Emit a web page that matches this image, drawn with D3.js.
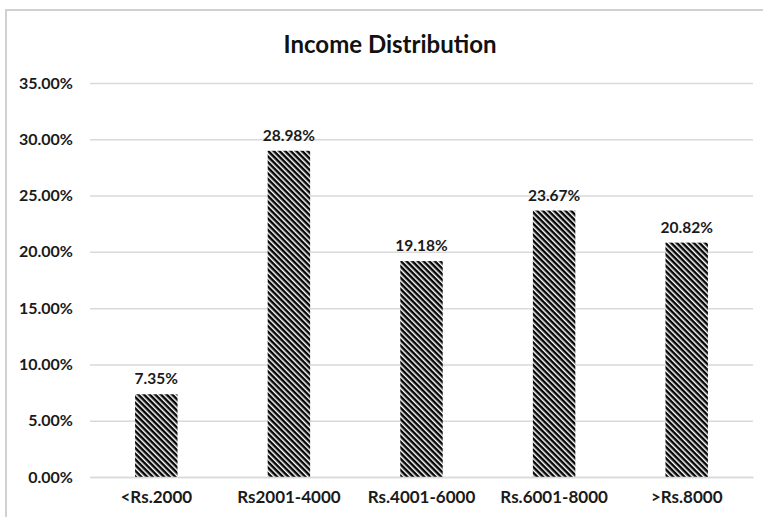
<!DOCTYPE html>
<html><head><meta charset="utf-8">
<script src="https://cdn.jsdelivr.net/npm/d3@7"></script>
<style>body{margin:0;background:#fff;} svg{display:block;}</style>
</head><body>
<svg id="chart" width="763" height="517"></svg>
<script>
const title = "Income Distribution";
const categories = ["<Rs.2000", "Rs2001-4000", "Rs.4001-6000", "Rs.6001-8000", ">Rs.8000"];
const values = [7.35, 28.98, 19.18, 23.67, 20.82];
const yTicks = [0, 5, 10, 15, 20, 25, 30, 35];

const svg = d3.select("#chart");
const W = 763, H = 517;
const font = "Lato, 'Open Sans', sans-serif";

// outer frame
svg.append("rect").attr("x", 6).attr("y", 10).attr("width", W).attr("height", H)
  .attr("fill", "#fff").attr("stroke", "#d0d0d0").attr("stroke-width", 2);

const defs = svg.append("defs");
const pat = defs.append("pattern").attr("id", "hatch").attr("patternUnits", "userSpaceOnUse")
  .attr("width", 4).attr("height", 4).attr("patternTransform", "rotate(45)");
pat.append("rect").attr("width", 4).attr("height", 4).attr("fill", "#fff");
pat.append("rect").attr("width", 4).attr("height", 2.5).attr("fill", "#050505");

const x = d3.scaleBand().domain(categories).range([90, 753]).paddingInner(0.68).paddingOuter(0.34);
const y = d3.scaleLinear().domain([0, 35]).range([477, 83]);

// gridlines
const yAxis = d3.axisLeft(y).tickValues(yTicks).tickSize(-(753 - 90)).tickFormat(d => d.toFixed(2) + "%");
const gy = svg.append("g").attr("transform", "translate(90,0)").call(yAxis);
gy.select(".domain").remove();
gy.selectAll(".tick line").attr("stroke", "#d9d9d9").attr("stroke-width", 1.5);
gy.selectAll(".tick text").attr("x", -17).attr("fill", "#1a1a1a")
  .style("font-family", font).style("font-weight", "bold").style("font-size", "16px");

// bars
svg.append("g").selectAll("rect").data(values).join("rect")
  .attr("x", (d, i) => x(categories[i]))
  .attr("width", x.bandwidth())
  .attr("y", d => y(d))
  .attr("height", d => y(0) - y(d))
  .attr("fill", "url(#hatch)");

// value labels
svg.append("g").selectAll("text").data(values).join("text")
  .attr("x", (d, i) => x(categories[i]) + x.bandwidth() / 2)
  .attr("y", d => y(d) - 10)
  .attr("text-anchor", "middle").attr("fill", "#1a1a1a")
  .style("font-family", font).style("font-weight", "bold").style("font-size", "15.5px")
  .text(d => d.toFixed(2) + "%");

// x axis labels
const xAxis = d3.axisBottom(x).tickSize(0).tickPadding(14);
const gx = svg.append("g").attr("transform", "translate(0,477)").call(xAxis);
gx.select(".domain").attr("stroke", "#d9d9d9").attr("stroke-width", 1.5);
gx.selectAll(".tick text").attr("fill", "#1a1a1a")
  .style("font-family", font).style("font-weight", "bold").style("font-size", "17px");

// title
svg.append("text").attr("x", 390).attr("y", 53).attr("text-anchor", "middle").attr("fill", "#111")
  .style("font-family", font).style("font-weight", "bold").style("font-size", "24px")
  .text(title);
</script>
</body></html>
